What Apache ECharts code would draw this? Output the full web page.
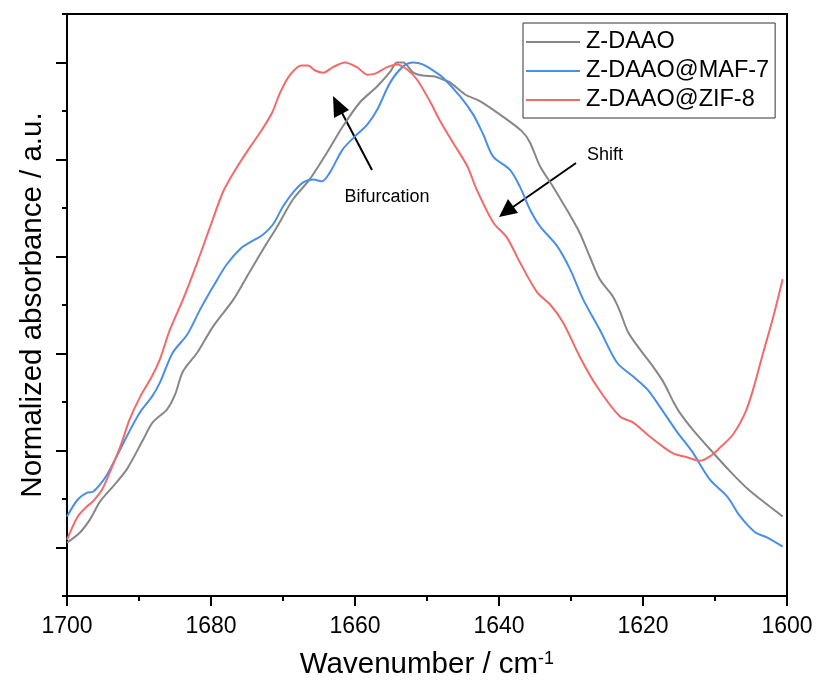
<!DOCTYPE html>
<html>
<head>
<meta charset="utf-8">
<script src="https://cdn.jsdelivr.net/npm/echarts@6/dist/echarts.min.js"></script>
<style>html,body{margin:0;padding:0;background:#fff}#c{width:818px;height:691px}</style>
</head>
<body>
<div id="c"></div>
<script>
const seriesNames = ['Z-DAAO', 'Z-DAAO@MAF-7', 'Z-DAAO@ZIF-8'];
const xTicks = [1700, 1680, 1660, 1640, 1620, 1600];

const wnGray = [1700.0,1698.2,1696.8,1695.4,1693.6,1691.7,1689.4,1688.1,1686.1,1685.0,1683.9,1681.9,1679.7,1676.9,1674.6,1672.8,1670.8,1668.6,1666.3,1663.9,1661.7,1659.3,1656.9,1655.1,1654.2,1653.3,1651.9,1650.6,1648.9,1647.8,1646.8,1644.7,1642.6,1639.9,1636.8,1635.7,1634.3,1632.5,1630.6,1628.8,1627.4,1626.0,1624.2,1623.2,1622.1,1620.4,1618.8,1617.2,1615.8,1614.9,1613.1,1610.3,1607.9,1605.4,1602.8,1600.6];
const absGray = [0.010,0.031,0.058,0.095,0.126,0.161,0.223,0.258,0.285,0.315,0.363,0.402,0.456,0.511,0.569,0.614,0.662,0.718,0.759,0.814,0.868,0.918,0.951,0.981,1.000,1.000,0.979,0.973,0.971,0.965,0.959,0.934,0.920,0.893,0.858,0.835,0.786,0.744,0.697,0.649,0.600,0.553,0.518,0.487,0.445,0.408,0.377,0.342,0.301,0.278,0.243,0.196,0.157,0.120,0.089,0.064];

const wnBlue = [1700.0,1698.5,1697.2,1696.4,1695.4,1694.4,1693.1,1691.7,1689.9,1688.2,1687.1,1685.3,1683.3,1681.5,1679.7,1677.8,1675.7,1674.6,1672.8,1671.4,1670.0,1668.6,1667.2,1665.8,1664.6,1663.5,1661.7,1659.7,1658.3,1656.9,1655.1,1653.3,1651.9,1650.6,1648.9,1647.8,1645.4,1643.6,1642.2,1640.8,1638.5,1637.1,1635.7,1634.3,1631.9,1630.1,1628.3,1626.0,1623.6,1621.4,1619.4,1617.6,1615.3,1613.1,1610.7,1608.3,1606.5,1604.4,1602.8,1600.6];
const absBlue = [0.064,0.099,0.113,0.115,0.130,0.151,0.188,0.229,0.278,0.311,0.340,0.402,0.439,0.491,0.538,0.584,0.619,0.629,0.645,0.666,0.703,0.732,0.753,0.759,0.755,0.773,0.821,0.852,0.872,0.903,0.959,0.992,1.000,0.996,0.981,0.969,0.930,0.893,0.852,0.806,0.779,0.744,0.697,0.662,0.621,0.573,0.511,0.449,0.381,0.353,0.326,0.289,0.239,0.196,0.140,0.105,0.064,0.031,0.021,0.002];

const wnRed = [1700.0,1698.5,1697.2,1696.4,1695.1,1694.0,1692.6,1691.3,1689.9,1688.2,1687.1,1685.7,1683.9,1681.9,1680.1,1678.3,1676.4,1674.6,1672.9,1671.5,1670.4,1669.0,1667.4,1666.5,1665.6,1664.4,1663.1,1661.4,1659.7,1658.3,1657.2,1655.6,1654.2,1652.8,1651.4,1649.6,1648.2,1646.4,1644.4,1643.1,1640.8,1638.9,1637.1,1634.7,1632.9,1631.1,1628.8,1626.4,1623.2,1621.4,1619.4,1617.6,1615.8,1613.9,1612.1,1610.7,1609.3,1607.5,1605.8,1604.7,1603.3,1601.9,1600.6];
const absRed = [0.016,0.064,0.085,0.095,0.120,0.157,0.208,0.264,0.309,0.353,0.388,0.449,0.511,0.588,0.662,0.734,0.784,0.825,0.862,0.897,0.938,0.975,0.994,0.994,0.984,0.979,0.990,1.000,0.990,0.975,0.977,0.990,0.996,0.986,0.965,0.920,0.880,0.835,0.786,0.738,0.670,0.639,0.588,0.526,0.501,0.464,0.394,0.332,0.270,0.258,0.233,0.212,0.194,0.186,0.179,0.188,0.206,0.233,0.278,0.326,0.402,0.476,0.553];

const colors = ['#878787', '#4a8fe6', '#f26a6a'];
const FONT = "'Liberation Sans', Arial, sans-serif";

function pairs(w, a) { return w.map((x, i) => [x, a[i]]); }

const chart = echarts.init(document.getElementById('c'), null, {renderer: 'canvas'});
chart.setOption({
  animation: false,
  backgroundColor: '#fff',
  textStyle: {fontFamily: FONT},
  grid: [
    {left: 67, right: 31, top: 14, bottom: 95, show: true, borderColor: '#000', borderWidth: 2, backgroundColor: 'transparent'},
    {left: 67, right: 31, top: 63, bottom: 143, show: false}
  ],
  xAxis: [
    {
      type: 'value', gridIndex: 0, min: 1600, max: 1700, interval: 20, inverse: true,
      axisLine: {show: true, onZero: false, lineStyle: {color: '#000', width: 2}},
      axisTick: {show: true, inside: false, length: 10, lineStyle: {color: '#000', width: 2}},
      minorTick: {show: true, splitNumber: 2, length: 5, lineStyle: {color: '#000', width: 2}},
      axisLabel: {show: true, color: '#000', fontSize: 23, fontFamily: FONT, margin: 19,
        formatter: v => xTicks.indexOf(v) >= 0 ? String(v) : ''},
      splitLine: {show: false}, minorSplitLine: {show: false}
    },
    {
      type: 'value', gridIndex: 1, min: 1600, max: 1700, inverse: true, show: false
    }
  ],
  yAxis: [
    {
      type: 'value', gridIndex: 0, min: -0.1, max: 1.1, interval: 0.1,
      axisLine: {show: true, onZero: false, lineStyle: {color: '#000', width: 2}},
      axisTick: {show: true, inside: false, length: 5, lineStyle: {color: '#000', width: 2}},
      axisLabel: {show: false}, splitLine: {show: false}
    },
    {
      type: 'value', gridIndex: 1, min: 0, max: 1, interval: 0.2,
      axisLine: {show: false},
      axisTick: {show: true, inside: false, length: 11, lineStyle: {color: '#000', width: 2}},
      axisLabel: {show: false}, splitLine: {show: false}
    }
  ],
  legend: {
    show: true, orient: 'vertical', left: 523, top: 23,
    data: seriesNames,
    icon: 'rect', itemWidth: 54, itemHeight: 2, itemGap: 5,
    padding: [7, 6, 6, 3],
    borderColor: '#333', borderWidth: 1, borderRadius: 0,
    textStyle: {fontSize: 23.5, color: '#000', fontFamily: FONT, padding: [0, 0, 0, 1]}
  },
  series: [
    {name: seriesNames[0], type: 'line', xAxisIndex: 0, yAxisIndex: 0, data: pairs(wnGray, absGray), showSymbol: false, smooth: 0.3, lineStyle: {color: colors[0], width: 2}, itemStyle: {color: colors[0]}},
    {name: seriesNames[1], type: 'line', xAxisIndex: 0, yAxisIndex: 0, data: pairs(wnBlue, absBlue), showSymbol: false, smooth: 0.3, lineStyle: {color: colors[1], width: 2}, itemStyle: {color: colors[1]}},
    {name: seriesNames[2], type: 'line', xAxisIndex: 0, yAxisIndex: 0, data: pairs(wnRed, absRed), showSymbol: false, smooth: 0.3, lineStyle: {color: colors[2], width: 2}, itemStyle: {color: colors[2]}}
  ],
  graphic: [
    {type: 'text', x: 427, y: 665, style: {
      text: '{a|Wavenumber / cm}{b|-1}', align: 'center', verticalAlign: 'middle',
      rich: {a: {fontSize: 29.5, fontFamily: FONT, fill: '#000'}, b: {fontSize: 18, fontFamily: FONT, fill: '#000', verticalAlign: 'top', padding: [0,0,12,0]}}
    }},
    {type: 'text', x: 33, y: 305, rotation: Math.PI / 2, style: {
      text: 'Normalized absorbance / a.u.', align: 'center', verticalAlign: 'middle',
      fontSize: 29.5, fontFamily: FONT, fill: '#000'
    }},
    {type: 'text', x: 387, y: 197, style: {text: 'Bifurcation', align: 'center', verticalAlign: 'middle', fontSize: 18, fontFamily: FONT, fill: '#000'}},
    {type: 'text', x: 605, y: 155, style: {text: 'Shift', align: 'center', verticalAlign: 'middle', fontSize: 18, fontFamily: FONT, fill: '#000'}},
    {type: 'line', shape: {x1: 372, y1: 170, x2: 341, y2: 111}, style: {stroke: '#000', lineWidth: 2}},
    {type: 'polygon', shape: {points: [[333, 96], [334, 118], [349, 110]]}, style: {fill: '#000'}},
    {type: 'line', shape: {x1: 576, y1: 163, x2: 513, y2: 207}, style: {stroke: '#000', lineWidth: 2}},
    {type: 'polygon', shape: {points: [[499, 217], [508, 199], [518, 213]]}, style: {fill: '#000'}}
  ]
});
</script>
</body>
</html>
